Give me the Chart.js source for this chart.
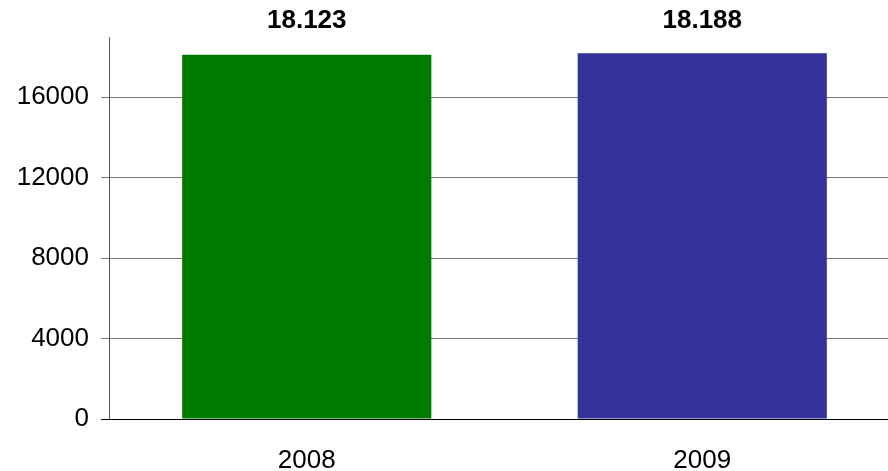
<!DOCTYPE html>
<html>
<head>
<meta charset="utf-8">
<script src="https://cdn.jsdelivr.net/npm/chart.js@4/dist/chart.umd.min.js"></script>
<style>
  html, body { margin: 0; padding: 0; background: #fff; overflow: hidden; }
  #wrap { width: 900px; height: 471px; }
</style>
</head>
<body>
<div id="wrap"><canvas id="barChart"></canvas></div>
<script>
var years = ['2008', '2009'];
var totals = [18123, 18188];
var barColors = ['#007b00', '#333399'];
var yTicks = [0, 4000, 8000, 12000, 16000];

// bold totals written above each bar, german thousands separator
var valueLabels = {
  id: 'valueLabels',
  afterDatasetsDraw: function (chart) {
    var ctx = chart.ctx;
    var meta = chart.getDatasetMeta(0);
    ctx.save();
    ctx.font = 'bold 26px "Liberation Sans", Arial, sans-serif';
    ctx.fillStyle = '#000';
    ctx.textAlign = 'center';
    ctx.textBaseline = 'middle';
    meta.data.forEach(function (bar, i) {
      ctx.fillText(totals[i].toLocaleString('de-DE'), bar.x, 21);
    });
    ctx.restore();
  }
};

var ctx = document.getElementById('barChart').getContext('2d');
var myChart = new Chart(ctx, {
  type: 'bar',
  data: {
    labels: years,
    datasets: [{
      data: totals,
      backgroundColor: barColors,
      borderWidth: 0,
      borderSkipped: false,
      barPercentage: 0.63,
      categoryPercentage: 1
    }]
  },
  options: {
    responsive: true,
    maintainAspectRatio: false,
    animation: false,
    layout: { padding: { top: 37, left: 0, right: 0, bottom: 0 } },
    plugins: {
      legend: { display: false },
      tooltip: { enabled: false }
    },
    scales: {
      x: {
        grid: { display: false },
        border: { display: true, color: '#000', width: 1 },
        ticks: {
          color: '#000',
          padding: 18,
          font: { family: '"Liberation Sans", Arial, sans-serif', size: 26 }
        },
        afterFit: function (scale) { scale.height = 52; }
      },
      y: {
        min: 0,
        max: 19000,
        afterBuildTicks: function (scale) {
          scale.ticks = yTicks.map(function (v) { return { value: v }; });
        },
        grid: {
          color: function (c) { return c.tick && c.tick.value === 0 ? '#000' : '#777'; },
          lineWidth: 1,
          tickLength: 8
        },
        border: { display: true, color: '#555', width: 1 },
        ticks: {
          color: '#000',
          padding: 12,
          font: { family: '"Liberation Sans", Arial, sans-serif', size: 26 },
          callback: function (value) { return String(value); }
        },
        afterFit: function (scale) { scale.width = 109; }
      }
    }
  },
  plugins: [valueLabels]
});
</script>
</body>
</html>
